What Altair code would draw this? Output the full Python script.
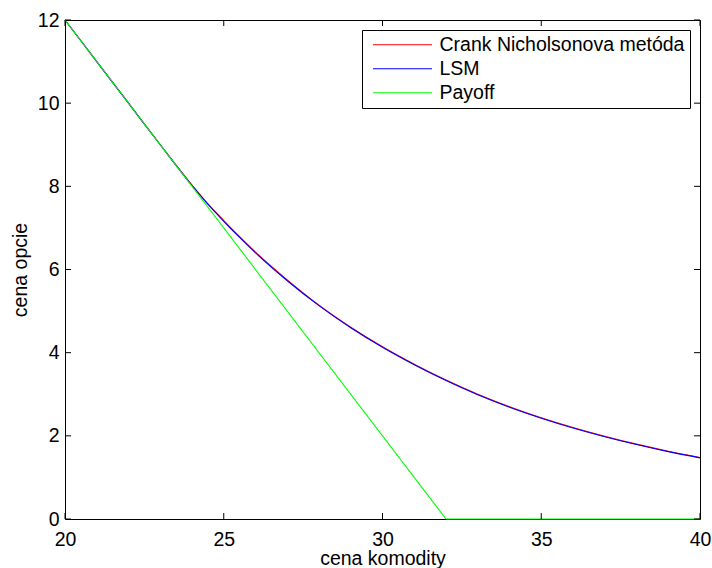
import altair as alt
import pandas as pd

# Commodity price grid (x axis)
price = [20, 21, 22, 23, 24, 24.5, 25, 25.5, 26, 27, 28, 29, 30,
         31, 32, 33, 34, 35, 36, 37, 38, 39, 40]
# American put value: Crank-Nicolson finite differences
cn_value = [12, 11, 10, 9, 8.03, 7.58, 7.18, 6.79, 6.42, 5.75, 5.14, 4.61, 4.14,
            3.72, 3.34, 3.00, 2.70, 2.435, 2.20, 1.99, 1.80, 1.63, 1.48]
# American put value: Longstaff-Schwartz least squares Monte Carlo
lsm_value = [12, 11, 10, 9, 8.02, 7.57, 7.16, 6.77, 6.40, 5.73, 5.13, 4.60, 4.13,
             3.71, 3.33, 2.99, 2.69, 2.425, 2.19, 1.98, 1.79, 1.62, 1.47]
# Exercise payoff (strike 32)
payoff_price = [20, 32, 40]
payoff_value = [12, 0, 0]

series_names = ["Crank Nicholsonova metóda", "LSM", "Payoff"]
series_colors = ["#ff0000", "#0000ff", "#00ff00"]
series_interp = ["monotone", "monotone", "linear"]

x_ticks = [20, 25, 30, 35, 40]
y_ticks = [0, 2, 4, 6, 8, 10, 12]

FONT = "Liberation Sans"
W, H = 635, 499
TICK = 6

rows = []
for p, v in zip(price, cn_value):
    rows.append({"price": p, "value": v, "method": series_names[0]})
for p, v in zip(price, lsm_value):
    rows.append({"price": p, "value": v, "method": series_names[1]})
for p, v in zip(payoff_price, payoff_value):
    rows.append({"price": p, "value": v, "method": series_names[2]})
df = pd.DataFrame(rows)

x_scale = alt.Scale(domain=[20, 40], nice=False, zero=False)
y_scale = alt.Scale(domain=[0, 12], nice=False, zero=False)

x_axis = alt.Axis(values=x_ticks, title="cena komodity", labelPadding=11,
                  labelFlush=False, labelOverlap=False,
                  titleY=45, titleBaseline="alphabetic", titleAnchor="middle")
y_axis = alt.Axis(values=y_ticks, title="cena opcie", labelPadding=6,
                  labelFlush=False, labelOverlap=False,
                  titleX=-39, titleY=H / 2, titleAngle=270,
                  titleBaseline="alphabetic", titleAlign="center")

X = alt.X("price:Q", scale=x_scale, axis=x_axis)
Y = alt.Y("value:Q", scale=y_scale, axis=y_axis)

legend = alt.Legend(
    title=None, orient="none", legendX=297, legendY=10,
    symbolType="stroke", symbolSize=3481, symbolStrokeWidth=1,
    labelFont=FONT, labelFontSize=19.5, labelColor="black", labelLimit=500,
    strokeColor="black", fillColor="white", padding=5,
    symbolOffset=5.5, labelOffset=7, rowPadding=3, clipHeight=19.5,
)
color = alt.Color("method:N", scale=alt.Scale(domain=series_names, range=series_colors),
                  legend=legend)

layers = []
for name, interp in zip(series_names, series_interp):
    layers.append(
        alt.Chart(df)
        .transform_filter(alt.datum.method == name)
        .mark_line(strokeWidth=1.1, interpolate=interp)
        .encode(x=X, y=Y, color=color)
    )

# inward tick marks on all four sides of the box
xt = pd.DataFrame({"price": x_ticks})
yt = pd.DataFrame({"value": y_ticks})
tick_style = dict(color="black", strokeWidth=1)
xb = alt.Chart(xt).mark_rule(**tick_style).encode(
    x=X, y=alt.value(H), y2=alt.value(H - TICK))
xtop = alt.Chart(xt).mark_rule(**tick_style).encode(
    x=X, y=alt.value(0), y2=alt.value(TICK))
yl = alt.Chart(yt).mark_rule(**tick_style).encode(
    y=Y, x=alt.value(0), x2=alt.value(TICK))
yr = alt.Chart(yt).mark_rule(**tick_style).encode(
    y=Y, x=alt.value(W), x2=alt.value(W - TICK))

chart = (
    alt.layer(*layers, xb, xtop, yl, yr)
    .properties(
        width=W, height=H,
        padding={"left": 65, "top": 20, "right": 12, "bottom": 49},
        autosize=alt.AutoSizeParams(type="none"),
        background="white",
    )
    .configure_view(stroke="black", strokeWidth=1)
    .configure_axis(
        grid=False, domain=False, ticks=False,
        labelFont=FONT, labelFontSize=19.5, labelColor="black",
        titleFont=FONT, titleFontSize=19.5, titleFontWeight="normal", titleColor="black",
    )
)

chart.save("out.html", embed_options={"renderer": "svg", "actions": False})
